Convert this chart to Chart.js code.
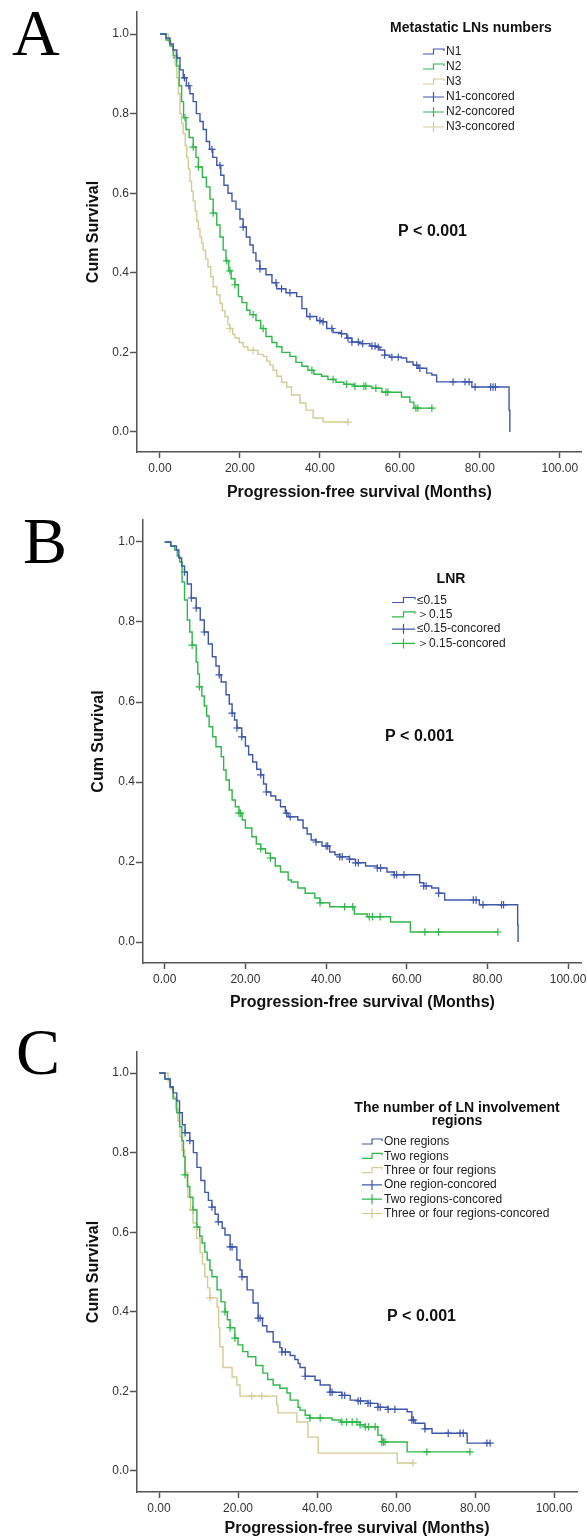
<!DOCTYPE html>
<html>
<head>
<meta charset="utf-8">
<script src="https://cdn.jsdelivr.net/npm/chart.js@4.4.0/dist/chart.umd.min.js"></script>
<style>
  html, body { margin: 0; padding: 0; background: #fff; }
  body { width: 587px; height: 1540px; position: relative; overflow: hidden; }
  canvas { position: absolute; left: 0; display: block; }
</style>
</head>
<body>
<canvas id="chartA" width="587" height="505" style="top:0"></canvas>
<canvas id="chartB" width="587" height="510" style="top:505px"></canvas>
<canvas id="chartC" width="587" height="525" style="top:1015px"></canvas>
<script>
// axis ticks (shared)
const xTicks = [0, 20, 40, 60, 80, 100];
const yTicks = [0, 0.2, 0.4, 0.6, 0.8, 1.0];

// colours (SPSS default palette)
const BLUE = 'rgb(62, 88, 172)';
const GREEN = 'rgb(46, 184, 72)';
const TAN = 'rgb(211, 204, 148)';

// ---- A: Metastatic LNs numbers ----
const aN1Time = [0,1.5,2.5,3.3,4.2,5,5.8,6.6,7.5,8.3,9.1,10,10.8,11.6,12.4,13.2,14.2,15.2,16,17,18,19,20,20.8,21.6,22.5,23.3,24,25,26.5,28,29.2,31.5,34.2,35.5,36.7,39.2,40.4,41.7,43.3,45.4,46.7,48,50,52.5,54.2,55,56.2,57.5,60.4,61.7,63.3,64.6,66.7,68,69.2,78,87.3,87.5];
const aN1Surv = [1,0.99,0.975,0.96,0.94,0.91,0.89,0.87,0.85,0.83,0.8,0.78,0.76,0.73,0.71,0.69,0.67,0.645,0.62,0.6,0.58,0.56,0.535,0.515,0.49,0.47,0.45,0.43,0.41,0.395,0.375,0.36,0.35,0.34,0.31,0.29,0.28,0.277,0.26,0.25,0.247,0.236,0.226,0.222,0.216,0.213,0.206,0.193,0.188,0.186,0.176,0.168,0.16,0.148,0.143,0.126,0.113,0.055,0];
const aN1Cens = [4.2,6.1,7.2,13,15,20.8,25,29,30.4,32.5,37.5,40,40.8,43,45.4,47,48,49.6,50.7,53,53.8,54.6,56.2,58,59.6,64.2,65,73.3,76.3,77.3,78.8,82.7,83.3,83.9];

const aN2Time = [0,1.5,2.5,3.3,4.2,4.8,5.4,5.9,6.5,7.3,8.3,9,9.6,10.6,11.6,12.5,13.3,14.2,15,15.8,16.5,17.2,17.8,18.75,19.6,20.5,21.7,22.5,24,25.2,26.5,28,29.2,30.5,32.5,34,35.5,37,38.5,40.4,42,44,46,48.5,53,55.5,60.4,62.5,63.5,68];
const aN2Surv = [1,0.985,0.97,0.945,0.92,0.87,0.83,0.79,0.76,0.74,0.716,0.69,0.666,0.64,0.616,0.585,0.55,0.52,0.49,0.457,0.43,0.405,0.385,0.37,0.34,0.325,0.306,0.295,0.28,0.26,0.24,0.225,0.214,0.2,0.19,0.175,0.165,0.155,0.145,0.14,0.132,0.125,0.12,0.115,0.11,0.1,0.088,0.075,0.06,0.06];
const aN2Cens = [6.25,8.3,9.6,13.3,16.7,17.5,18.75,23.3,25.8,38,43.3,46.7,48.75,51,51.5,54,56.5,57,64,64.5,68];

const aN3Time = [0,2.1,2.8,3.3,3.8,4.2,4.6,5,5.4,5.8,6.3,6.7,7.1,7.5,7.9,8.3,8.8,9.2,9.6,10,10.4,10.8,11.4,12,12.7,13.3,14.2,15,15.6,16.25,17,17.5,18.2,18.75,19.8,20.8,22,24.5,25.8,26.7,27.5,28.3,29.2,30.4,31.7,32.9,35,36.5,38.3,40.8,47];
const aN3Surv = [1,0.98,0.97,0.96,0.92,0.89,0.85,0.8,0.775,0.75,0.72,0.69,0.66,0.63,0.605,0.58,0.555,0.53,0.51,0.49,0.475,0.457,0.435,0.415,0.39,0.365,0.345,0.323,0.305,0.29,0.27,0.26,0.245,0.236,0.225,0.214,0.205,0.195,0.19,0.178,0.168,0.155,0.14,0.125,0.113,0.093,0.073,0.055,0.035,0.025,0.025];
const aN3Cens = [17.5,23.3,47];

// ---- B: LNR ----
const bLowTime = [0,1.5,2.9,3.5,4.2,4.9,5.6,6.6,7.8,8.8,9.8,10.8,11.8,12.7,13.5,14,15.2,16,16.7,17.3,17.9,19.1,20,20.8,21.8,22.8,23.8,24.5,25.2,26.3,27.5,28.7,29.9,30.6,33,34.3,35.3,36.3,37.5,39,40.9,42.2,43.4,45.8,47.3,49.8,52.7,55.1,56.9,63.2,64.2,66.2,67.9,69.4,78,87.5,87.6];
const bLowSurv = [1,0.99,0.98,0.96,0.94,0.925,0.895,0.86,0.835,0.805,0.775,0.745,0.713,0.69,0.668,0.65,0.618,0.595,0.572,0.555,0.535,0.513,0.49,0.468,0.45,0.432,0.418,0.395,0.375,0.365,0.355,0.338,0.322,0.313,0.305,0.285,0.27,0.255,0.25,0.24,0.225,0.218,0.213,0.207,0.198,0.19,0.185,0.175,0.168,0.148,0.14,0.135,0.122,0.105,0.093,0.043,0];
const bLowCens = [4.9,6.6,7.8,9.8,13.5,16.7,17.9,19.1,23.8,25.2,30.2,31.1,37.5,40,40.4,43.4,44,45.8,47.3,48,52.7,53.5,56.9,57.5,59.3,64.2,64.8,67.9,76.5,77.2,78.9,83.5,84];

const bHighTime = [0,1.5,2.5,3.1,3.7,4.3,4.9,5.6,6.2,6.8,7.8,8.2,8.6,9.2,9.8,10.4,11,11.9,12.7,14,14.6,15.2,16,16.7,17.5,18.4,19.2,20,21.6,22.7,23.8,25,26.2,27.4,28.7,30.6,31.4,33,34.8,37.2,38.5,40.9,47,50.2,56,60.9,82.6];
const bHighSurv = [1,0.99,0.98,0.965,0.95,0.9,0.855,0.805,0.775,0.742,0.7,0.67,0.638,0.615,0.59,0.565,0.538,0.513,0.488,0.463,0.43,0.405,0.38,0.355,0.338,0.322,0.305,0.285,0.263,0.245,0.233,0.222,0.21,0.19,0.175,0.155,0.15,0.135,0.122,0.11,0.098,0.088,0.07,0.063,0.05,0.025,0.025];
const bHighCens = [6.8,8.6,18.4,18.8,23.8,26.2,38.5,44.6,46.6,50.7,51.5,53.4,64.5,67.9,82.6];

// ---- C: number of LN involvement regions ----
const cOneTime = [0,1.5,2.8,3.6,4.5,5.2,5.9,6.6,7.8,8.7,9.6,10.6,11.6,12.5,13.4,14.2,15,16,16.7,18,19.7,20.5,21,22.3,23.8,25.1,26.2,27.3,28.9,30.6,31.1,33.2,34.4,35.2,35.7,37,39.5,40.8,43.3,46.3,48.4,50.4,52.9,55.4,58,62.8,64,64.8,67.3,69.1,78,84];
const cOneSurv = [1,0.985,0.965,0.95,0.93,0.9,0.87,0.85,0.83,0.8,0.763,0.73,0.7,0.68,0.663,0.645,0.626,0.61,0.593,0.563,0.53,0.505,0.488,0.455,0.422,0.384,0.365,0.35,0.324,0.31,0.299,0.29,0.28,0.27,0.26,0.238,0.228,0.216,0.198,0.19,0.178,0.176,0.17,0.16,0.155,0.149,0.128,0.12,0.106,0.095,0.07,0.07];
const cOneCens = [6.6,7.8,13.4,15,18,18.5,21,25.1,25.6,31.1,32,37,43.3,43.8,46.3,47,50.4,51,52.9,53.5,55.4,56,58,59.7,64,64.4,67.3,73.2,76.2,77,83,83.8];

const cTwoTime = [0,1.5,2.8,3.6,4.5,5.2,5.8,6.2,6.6,7.2,7.8,8.6,9.6,10.3,10.9,11.6,12.2,12.9,13.4,14.7,15.7,16.7,17.3,18,19.2,20,21.2,22.5,24.5,26.3,27.5,28.9,30.6,32.4,33.2,35.2,35.7,37,38.2,43.8,46,50.9,52.2,55.4,56.4,62.8,78.7];
const cTwoSurv = [1,0.985,0.965,0.935,0.9,0.865,0.83,0.79,0.744,0.715,0.688,0.656,0.613,0.59,0.573,0.55,0.53,0.505,0.488,0.455,0.425,0.4,0.38,0.36,0.334,0.317,0.3,0.287,0.265,0.246,0.23,0.216,0.208,0.196,0.178,0.16,0.153,0.14,0.133,0.128,0.123,0.116,0.111,0.09,0.073,0.048,0.048];
const cTwoCens = [6.6,8.6,9.6,16.7,18,19.2,38.2,40.8,46.3,47.5,48.9,50.1,50.9,52.2,53,54.7,56.4,56.8,57.2,67.8,78.7];

const cThreeTime = [0,2.3,2.9,3.5,4.2,4.8,5.3,5.8,6.5,7.3,8,8.6,9.5,10.4,11,11.6,12.3,12.9,14.7,15.1,15.4,16.2,18.5,19.7,20.5,29.8,30.1,34.9,37.7,40.3,60.3,64.3];
const cThreeSurv = [1,0.98,0.96,0.94,0.91,0.88,0.84,0.806,0.75,0.688,0.655,0.623,0.585,0.548,0.52,0.488,0.46,0.435,0.412,0.36,0.312,0.26,0.236,0.216,0.188,0.166,0.146,0.123,0.085,0.045,0.02,0.02];
const cThreeCens = [12.9,23.5,26,64.3];

const SANS = '"Liberation Sans", Arial, sans-serif';

// KM value at time t (last step at or before t)
function survAt(times, surv, t) {
    let s = surv[0];
    for (let i = 0; i < times.length; i++) {
        if (times[i] <= t) s = surv[i];
        else break;
    }
    return s;
}

function stepSet(label, color, times, surv) {
    return {
        label: label,
        kind: 'step',
        data: times.map((t, i) => ({ x: t, y: surv[i] })),
        borderColor: color,
        borderWidth: 1.4,
        stepped: 'before',
        pointRadius: 0,
        fill: false
    };
}

function censorSet(label, color, cens, times, surv) {
    return {
        label: label,
        kind: 'censor',
        data: cens.map(t => ({ x: t, y: survAt(times, surv, t) })),
        showLine: false,
        borderColor: color,
        pointStyle: 'cross',
        pointRadius: 3.7,
        pointBorderWidth: 1.2,
        pointBorderColor: color
    };
}

// draws panel letter, p value and the SPSS-like legend
const kmDecor = {
    id: 'kmDecor',
    afterDraw(chart, args, o) {
        const ctx = chart.ctx;
        ctx.save();
        ctx.fillStyle = '#000';
        ctx.textAlign = 'left';
        ctx.textBaseline = 'alphabetic';
        ctx.font = '66px "Liberation Serif", "Times New Roman", serif';
        ctx.fillText(o.letter, o.letterX, o.letterY);

        ctx.textBaseline = 'middle';
        ctx.font = 'bold 16px ' + SANS;
        ctx.fillStyle = '#111';
        ctx.fillText('P < 0.001', o.pX, o.pY);

        ctx.textAlign = 'center';
        ctx.font = 'bold 14px ' + SANS;
        o.title.forEach((line, i) => ctx.fillText(line, o.titleX, o.titleY + i * 13));

        ctx.textAlign = 'left';
        ctx.font = '12px ' + SANS;
        chart.data.datasets.forEach((ds, i) => {
            const y = o.itemY + i * o.itemGap;
            const x0 = o.itemX, w = o.symW;
            ctx.strokeStyle = ds.borderColor;
            ctx.lineWidth = 1.2;
            ctx.beginPath();
            if (ds.kind === 'step') {
                ctx.moveTo(x0, y + 2);
                ctx.lineTo(x0 + w * 0.5, y + 2);
                ctx.lineTo(x0 + w * 0.5, y - 3);
                ctx.lineTo(x0 + w, y - 3);
                ctx.lineTo(x0 + w, y - 1);
            } else {
                ctx.moveTo(x0, y);
                ctx.lineTo(x0 + w, y);
                ctx.moveTo(x0 + w * 0.5, y - 5);
                ctx.lineTo(x0 + w * 0.5, y + 5);
            }
            ctx.stroke();
            ctx.fillStyle = '#222';
            ctx.fillText(ds.label, x0 + w + 2, y);
        });
        ctx.restore();
    }
};

function makeChart(id, datasets, ax, decor) {
    const axisColor = '#555';
    const tickFont = { family: SANS, size: 12 };
    const titleFont = { family: SANS, size: 16, weight: 'bold' };
    return new Chart(document.getElementById(id), {
        type: 'line',
        data: { datasets: datasets },
        plugins: [kmDecor],
        options: {
            responsive: false,
            animation: false,
            events: [],
            layout: { padding: ax.pad },
            scales: {
                x: {
                    type: 'linear',
                    min: ax.xMin,
                    max: ax.xMax,
                    afterBuildTicks: s => { s.ticks = xTicks.map(v => ({ value: v })); },
                    afterFit: s => { s.height = ax.xH; s.paddingLeft = 0; s.paddingRight = 0; },
                    ticks: { callback: v => v.toFixed(2), color: '#333', font: tickFont, padding: 3, maxRotation: 0, autoSkip: false },
                    grid: { drawOnChartArea: false, tickLength: 6, tickColor: axisColor, tickWidth: 1.5 },
                    border: { color: axisColor, width: 1.5 },
                    title: { display: true, text: 'Progression-free survival (Months)', color: '#111', font: titleFont, padding: 0 }
                },
                y: {
                    type: 'linear',
                    min: ax.yMin,
                    max: ax.yMax,
                    afterBuildTicks: s => { s.ticks = yTicks.map(v => ({ value: v })); },
                    afterFit: s => { s.width = ax.yW; s.paddingTop = 0; s.paddingBottom = 0; },
                    ticks: { callback: v => v.toFixed(1), color: '#333', font: tickFont, padding: 1, autoSkip: false },
                    grid: { drawOnChartArea: false, tickLength: 7, tickColor: axisColor, tickWidth: 1.5 },
                    border: { color: axisColor, width: 1.5 },
                    title: { display: true, text: 'Cum Survival', color: '#111', font: titleFont, padding: 0 }
                }
            },
            plugins: {
                legend: { display: false },
                tooltip: { enabled: false },
                kmDecor: decor
            }
        }
    });
}

makeChart('chartA', [
    stepSet('N1', BLUE, aN1Time, aN1Surv),
    stepSet('N2', GREEN, aN2Time, aN2Surv),
    stepSet('N3', TAN, aN3Time, aN3Surv),
    censorSet('N1-concored', BLUE, aN1Cens, aN1Time, aN1Surv),
    censorSet('N2-concored', GREEN, aN2Cens, aN2Time, aN2Surv),
    censorSet('N3-concored', TAN, aN3Cens, aN3Time, aN3Surv)
], {
    xMin: -5.75, xMax: 105.5, yMin: -0.0503, yMax: 1.0553,
    pad: { left: 84.4, top: 12, right: 5, bottom: 2.4 }, yW: 52.6, xH: 50.6
}, {
    letter: 'A', letterX: 12, letterY: 55,
    pX: 398, pY: 232,
    title: ['Metastatic LNs numbers'], titleX: 471, titleY: 28,
    itemX: 423, itemY: 52, itemGap: 15, symW: 21
});

makeChart('chartB', [
    stepSet('≤0.15', BLUE, bLowTime, bLowSurv),
    stepSet('＞0.15', GREEN, bHighTime, bHighSurv),
    censorSet('≤0.15-concored', BLUE, bLowCens, bLowTime, bLowSurv),
    censorSet('＞0.15-concored', GREEN, bHighCens, bHighTime, bHighSurv)
], {
    xMin: -5.39, xMax: 103.4, yMin: -0.0525, yMax: 1.055,
    pad: { left: 89.4, top: 15, right: 0, bottom: 2.4 }, yW: 53.6, xH: 49.6
}, {
    letter: 'B', letterX: 23, letterY: 58,
    pX: 385, pY: 232,
    title: ['LNR'], titleX: 451, titleY: 74,
    itemX: 392, itemY: 95.5, itemGap: 14.3, symW: 23
});

makeChart('chartC', [
    stepSet('One regions', BLUE, cOneTime, cOneSurv),
    stepSet('Two regions', GREEN, cTwoTime, cTwoSurv),
    stepSet('Three or four regions', TAN, cThreeTime, cThreeSurv),
    censorSet('One region-concored', BLUE, cOneCens, cOneTime, cOneSurv),
    censorSet('Two regions-concored', GREEN, cTwoCens, cTwoTime, cTwoSurv),
    censorSet('Three or four regions-concored', TAN, cThreeCens, cThreeTime, cThreeSurv)
], {
    xMin: -5.57, xMax: 105.8, yMin: -0.0528, yMax: 1.0528,
    pad: { left: 84.4, top: 37, right: 10, bottom: 1.4 }, yW: 52.6, xH: 46.6
}, {
    letter: 'C', letterX: 16, letterY: 59,
    pX: 387, pY: 302,
    title: ['The number of LN involvement', 'regions'], titleX: 457, titleY: 93,
    itemX: 362, itemY: 127, itemGap: 14.3, symW: 20
});
</script>
</body>
</html>
